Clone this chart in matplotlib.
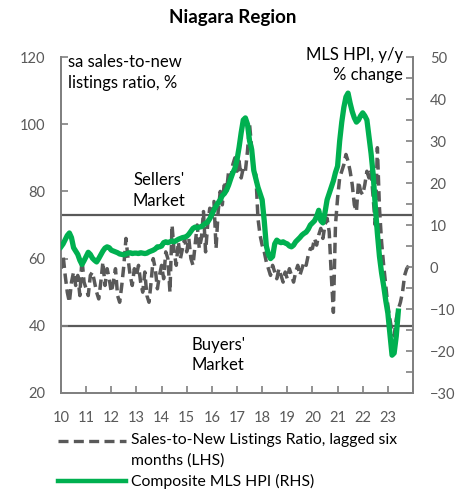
import numpy as np
import matplotlib
matplotlib.use("Agg")
import matplotlib.pyplot as plt
from matplotlib.lines import Line2D

plt.rcParams['font.family'] = ['Lato', 'DejaVu Sans']

# ratio de ventes / nouvelles inscriptions (LHS), mensuel, jan 2010 -> nov 2023
ratio = [
    57, 61, 55, 50, 47, 53, 56, 52, 55, 49, 60, 53,   # 2010
    51, 49, 55, 56, 53, 50, 48, 53, 59, 52, 57, 54,   # 2011
    50, 53, 57, 49, 47, 52, 58, 66, 60, 55, 52, 57,   # 2012
    55, 58, 53, 50, 56, 49, 47, 53, 60, 57, 51, 55,   # 2013
    58, 54, 62, 60, 50, 70, 62, 58, 65, 60, 63, 66,   # 2014
    62, 66, 60, 58, 64, 70, 63, 66, 74, 62, 70, 75,   # 2015
    72, 77, 63, 74, 80, 76, 83, 80, 86, 84, 88, 90,   # 2016
    86, 89, 84, 87, 86, 92, 100, 93, 86, 85, 72, 67,  # 2017
    64, 62, 59, 57, 55, 58, 56, 54, 57, 55, 53, 56,   # 2018
    54, 57, 55, 53, 56, 58, 55, 57, 59, 58, 61, 63,   # 2019
    63, 66, 64, 67, 69, 66, 70, 72, 68, 55, 44, 70,   # 2020
    78, 84, 86, 88, 91, 89, 86, 82, 76, 74, 83, 80,   # 2021
    79, 82, 86, 84, 86, 78, 70, 93, 75, 65, 58, 52,   # 2022
    46, 42, 38, 37, 42, 45, 47, 50, 55, 57, 58,       # 2023
]

# MLS HPI composite, variation a/a (RHS), jan 2010 -> jun 2023
hpi = [
    4.8, 5.5, 6.5, 7.5, 8.1, 7.0, 4.6, 3.8, 3.0, 1.6, 0.6, 1.5,
    2.5, 3.5, 3.0, 2.1, 1.6, 1.2, 2.0, 2.9, 3.8, 4.5, 4.8, 4.6,
    4.0, 3.8, 3.6, 3.4, 3.1, 3.0, 2.9, 3.1, 3.3, 3.4, 3.2, 3.3,
    3.3, 3.2, 3.4, 3.3, 3.2, 3.3, 3.6, 3.8, 4.0, 4.3, 4.8, 4.8,
    5.0, 5.8, 6.0, 5.8, 6.0, 6.2, 6.0, 6.3, 6.6, 6.8, 7.0, 7.1,
    7.3, 7.8, 8.5, 9.2, 9.5, 9.3, 9.5, 9.6, 10.0, 10.4, 10.7, 11.5,
    12.5, 13.6, 14.5, 15.3, 16.0, 17.0, 17.5, 18.3, 19.5, 21.0, 22.4, 23.5,
    25.5, 28.5, 32.0, 35.0, 35.5, 34.0, 30.0, 28.0, 23.0, 21.0, 19.0, 17.5,
    16.0, 11.0, 5.0, 3.0, 2.0, 2.5, 5.5, 6.4, 6.0, 5.8, 6.0, 5.7,
    5.5, 5.0, 4.8, 5.2, 6.0, 6.5, 7.0, 7.6, 8.0, 8.3, 9.0, 10.0,
    10.5, 11.0, 12.0, 13.5, 11.0, 10.5, 13.0, 16.0, 17.5, 19.0, 20.5, 22.5,
    24.0, 30.0, 34.5, 38.0, 40.5, 41.4, 39.0, 37.0, 35.5, 34.5, 35.0, 36.0,
    36.7, 36.0, 35.0, 31.0, 27.0, 22.0, 14.5, 8.0, 2.5, -1.4, -4.5, -8.0,
    -11.0, -16.0, -21.0, -20.5, -16.5, -10.5,
]

anos = list(range(2010, 2025))
rotulos = ['10', '11', '12', '13', '14', '15', '16', '17', '18', '19', '20', '21', '22', '23', '']
vendedores = 73
compradores = 40

t_ratio = 2010 + np.arange(len(ratio)) / 12
t_hpi = 2010 + np.arange(len(hpi)) / 12

cinza = '#595959'
verde = '#00B050'
eixo = '#808080'

fig = plt.figure(figsize=(4.65, 4.91), dpi=100)
ax = fig.add_axes([61/465, 1-393/491, 352/465, 336/491])
ax2 = ax.twinx()

ax.axhline(vendedores, color=cinza, lw=1.6, zorder=1)
ax.axhline(compradores, color=cinza, lw=1.6, zorder=1)
ax.plot(t_ratio, ratio, color=cinza, lw=2.5, linestyle=(0, (3, 1.6)), zorder=2)
ax2.plot(t_hpi, hpi, color=verde, lw=3.8, zorder=3)

ax.set_xlim(2010, 2024)
ax.set_ylim(20, 120)
ax2.set_ylim(-30, 50)
ax.set_xticks(anos)
ax.set_xticklabels(rotulos)
ax.set_yticks([20, 40, 60, 80, 100, 120])
ax2.set_yticks(range(-30, 51, 10))
ax2.set_yticks(range(-25, 50, 10), minor=True)

for a in (ax, ax2):
    a.spines['top'].set_visible(False)
    for s in ('left', 'right', 'bottom'):
        a.spines[s].set_color(eixo)
        a.spines[s].set_linewidth(1.3)
ax.tick_params(axis='y', direction='in', length=5, width=1.2, color=eixo,
               labelcolor=cinza, labelsize=10.5, pad=11)
ax.tick_params(axis='x', direction='in', length=5, width=1.2, color=eixo,
               labelcolor=cinza, labelsize=10.5, pad=13)
ax2.tick_params(axis='y', which='both', direction='in', length=5, width=1.2,
                color=eixo, labelcolor=cinza, labelsize=10.5, pad=12)

ax.text(2010.28, 120.8, "sa sales-to-new\nlistings ratio, %", ha='left', va='top',
        fontsize=12, linespacing=1.35)
ax2.text(2023.6, 52.4, "MLS HPI, y/y\n% change", ha='right', va='top',
         fontsize=12, linespacing=1.35)
ax.text(2013.9, 80.2, "Sellers'\nMarket", ha='center', va='center',
        fontsize=12, linespacing=1.35)
ax.text(2016.25, 31.3, "Buyers'\nMarket", ha='center', va='center',
        fontsize=12, linespacing=1.35)

fig.text(233/465, 1-18/491, "Niagara Region", ha='center', va='center',
         fontsize=13.5, fontweight='bold')

# legenda feita a mao
fig.add_artist(Line2D([58/465, 126/465], [1-441/491, 1-441/491], color=cinza,
                      lw=2.4, linestyle=(0, (3, 1.6))))
fig.add_artist(Line2D([58/465, 126/465], [1-481/491, 1-481/491], color=verde, lw=3.2))
fig.text(131/465, 1-440/491, "Sales-to-New Listings Ratio, lagged six", ha='left',
         va='center', fontsize=11.3)
fig.text(131/465, 1-461/491, "months (LHS)", ha='left', va='center', fontsize=11.3)
fig.text(131/465, 1-481/491, "Composite MLS HPI (RHS)", ha='left', va='center',
         fontsize=11.3)

fig.savefig("out.png", dpi=100)
